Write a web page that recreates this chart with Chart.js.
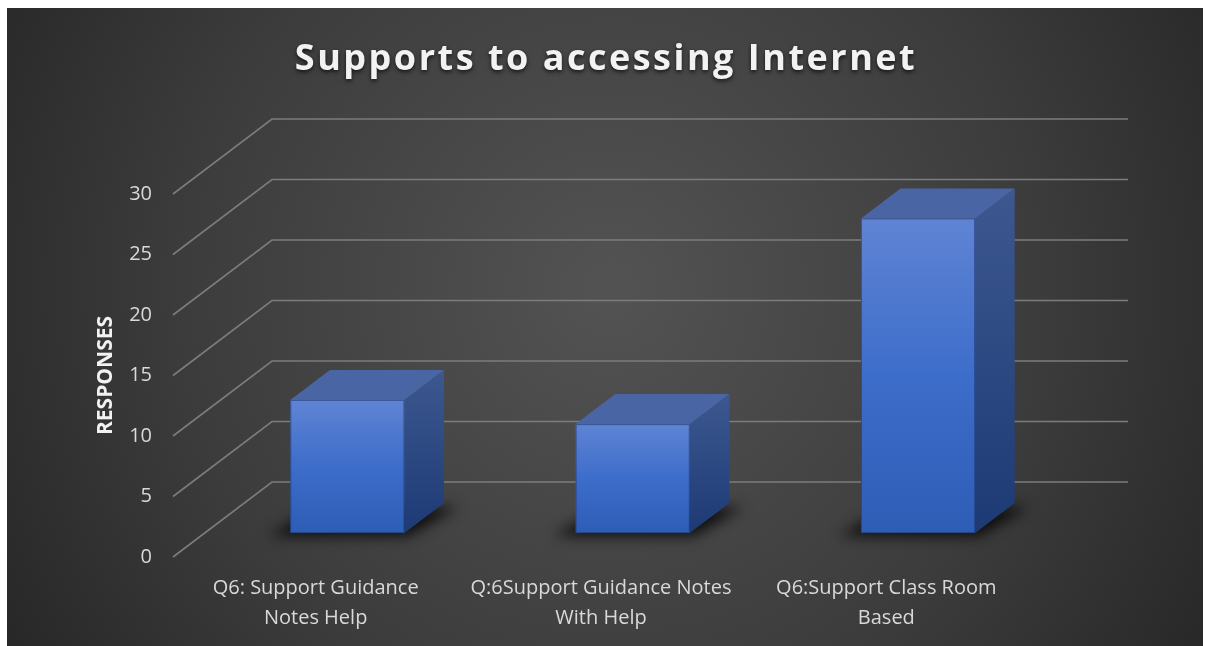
<!DOCTYPE html>
<html>
<head>
<meta charset="utf-8">
<title>Supports to accessing Internet</title>
<script src="https://cdn.jsdelivr.net/npm/chart.js@4.4.1/dist/chart.umd.min.js"></script>
<style>
  html, body { margin: 0; padding: 0; background: #ffffff; }
  #wrap { position: relative; width: 1205px; height: 646px; }
</style>
</head>
<body>
<div id="wrap"><canvas id="supportChart" width="1205" height="646"></canvas></div>
<script>
const chartTitle = 'Supports to accessing Internet';
const categories = [
    ['Q6: Support Guidance', 'Notes Help'],
    ['Q:6Support Guidance Notes', 'With Help'],
    ['Q6:Support Class Room', 'Based']
];
const responses = [11, 9, 26];
const yTicks = [0, 5, 10, 15, 20, 25, 30];

// depth of the floor / side wall, and where the boxes sit inside it
const DEPTH_X = 99;
const DEPTH_Y = -75;
const BOX_FRONT = 0.32;
const BOX_BACK = 0.72;

// dark backdrop with a soft light in the middle
const backdrop = {
    id: 'backdrop',
    beforeDraw(chart) {
        const ctx = chart.ctx;
        ctx.save();
        const g = ctx.createRadialGradient(610, 290, 20, 610, 290, 760);
        g.addColorStop(0, '#525252');
        g.addColorStop(0.55, '#3c3c3c');
        g.addColorStop(1, '#232323');
        ctx.fillStyle = g;
        ctx.fillRect(7, 8, 1196, 638);
        ctx.restore();
    }
};

// title with letter spacing and a drop shadow
const spacedTitle = {
    id: 'spacedTitle',
    afterDraw(chart) {
        const ctx = chart.ctx;
        ctx.save();
        ctx.font = 'bold 36px "Open Sans", sans-serif';
        ctx.letterSpacing = '2.5px';
        ctx.textAlign = 'center';
        ctx.textBaseline = 'alphabetic';
        ctx.shadowColor = 'rgba(0,0,0,0.7)';
        ctx.shadowBlur = 4;
        ctx.shadowOffsetY = 2;
        ctx.fillStyle = '#f2f2f2';
        ctx.fillText(chartTitle, 606, 70);
        ctx.restore();
    }
};

// side wall and back wall gridlines drawn in perspective
const perspectiveGrid = {
    id: 'perspectiveGrid',
    beforeDatasetsDraw(chart) {
        const ctx = chart.ctx;
        const y = chart.scales.y;
        const area = chart.chartArea;
        ctx.save();
        ctx.strokeStyle = '#7c7c7c';
        ctx.lineWidth = 1.6;
        yTicks.forEach(v => {
            const py = y.getPixelForValue(v);
            ctx.beginPath();
            ctx.moveTo(area.left, py);
            ctx.lineTo(area.left + DEPTH_X, py + DEPTH_Y);
            ctx.lineTo(area.right + DEPTH_X, py + DEPTH_Y);
            ctx.stroke();
        });
        ctx.restore();
    }
};

// 3D boxes built from the bar elements
const boxes = {
    id: 'boxes',
    afterDatasetsDraw(chart) {
        const ctx = chart.ctx;
        const meta = chart.getDatasetMeta(0);
        meta.data.forEach(bar => {
            const p = bar.getProps(['x', 'y', 'base', 'width'], true);
            const fx = p.x - p.width / 2 + BOX_FRONT * DEPTH_X;
            const fy = BOX_FRONT * DEPTH_Y;
            const left = fx, right = fx + p.width;
            const top = p.y + fy, bottom = p.base + fy;
            const dx = (BOX_BACK - BOX_FRONT) * DEPTH_X;
            const dy = (BOX_BACK - BOX_FRONT) * DEPTH_Y;

            // soft floor shadow
            ctx.save();
            ctx.filter = 'blur(7px)';
            ctx.fillStyle = 'rgba(0,0,0,0.8)';
            ctx.beginPath();
            ctx.moveTo(left - 22, bottom + 3);
            ctx.lineTo(right + 4, bottom + 3);
            ctx.lineTo(right + dx + 14, bottom + dy + 4);
            ctx.lineTo(left + dx - 10, bottom + dy + 4);
            ctx.closePath();
            ctx.fill();
            ctx.restore();

            ctx.save();
            // right side
            const side = ctx.createLinearGradient(0, top + dy, 0, bottom);
            side.addColorStop(0, '#3d5891');
            side.addColorStop(1, '#1d3a74');
            ctx.fillStyle = side;
            ctx.beginPath();
            ctx.moveTo(right, top);
            ctx.lineTo(right + dx, top + dy);
            ctx.lineTo(right + dx, bottom + dy);
            ctx.lineTo(right, bottom);
            ctx.closePath();
            ctx.fill();

            // top
            ctx.fillStyle = '#4a65a4';
            ctx.beginPath();
            ctx.moveTo(left, top);
            ctx.lineTo(left + dx, top + dy);
            ctx.lineTo(right + dx, top + dy);
            ctx.lineTo(right, top);
            ctx.closePath();
            ctx.fill();

            // front
            const front = ctx.createLinearGradient(0, top, 0, bottom);
            front.addColorStop(0, '#5f84d4');
            front.addColorStop(0.5, '#3d6dca');
            front.addColorStop(1, '#2e5db6');
            ctx.fillStyle = front;
            ctx.fillRect(left, top, p.width, bottom - top);
            ctx.strokeStyle = 'rgba(30,55,110,0.6)';
            ctx.lineWidth = 1;
            ctx.strokeRect(left + 0.5, top + 0.5, p.width - 1, bottom - top - 1);
            ctx.restore();
        });
    }
};

function createSupportChart() {
    const ctx = document.getElementById('supportChart').getContext('2d');
    new Chart(ctx, {
        type: 'bar',
        data: {
            labels: categories,
            datasets: [{
                label: 'Responses',
                data: responses,
                backgroundColor: 'rgba(0,0,0,0)',
                borderWidth: 0,
                barPercentage: 0.4,
                categoryPercentage: 1,
            }],
        },
        options: {
            responsive: false,
            animation: false,
            layout: {
                padding: { left: 0, right: 176, top: 194, bottom: 0 },
            },
            plugins: {
                legend: { display: false },
                tooltip: { enabled: false },
            },
            scales: {
                x: {
                    afterFit: scale => { scale.height = 89; },
                    grid: { display: false, drawTicks: false },
                    border: { display: false },
                    ticks: {
                        color: '#d9d9d9',
                        padding: 16,
                        maxRotation: 0,
                        autoSkip: false,
                        font: { family: '"Open Sans", sans-serif', size: 20, lineHeight: 1.5 },
                    },
                },
                y: {
                    min: 0,
                    max: 30,
                    afterFit: scale => { scale.width = 173; },
                    afterBuildTicks: scale => {
                        scale.ticks = yTicks.map(v => ({ value: v }));
                    },
                    grid: { display: false, drawTicks: false },
                    border: { display: false },
                    ticks: {
                        color: '#d9d9d9',
                        padding: 21,
                        font: { family: '"Open Sans", sans-serif', size: 20 },
                    },
                    title: {
                        display: true,
                        text: 'RESPONSES',
                        color: '#f2f2f2',
                        padding: { top: 94, bottom: 0 },
                        font: { family: '"Open Sans", sans-serif', size: 21, weight: 'bold', lineHeight: 1.1 },
                    },
                },
            },
        },
        plugins: [backdrop, perspectiveGrid, boxes, spacedTitle],
    });
}

document.addEventListener('DOMContentLoaded', () => {
    createSupportChart();
});
</script>
</body>
</html>
